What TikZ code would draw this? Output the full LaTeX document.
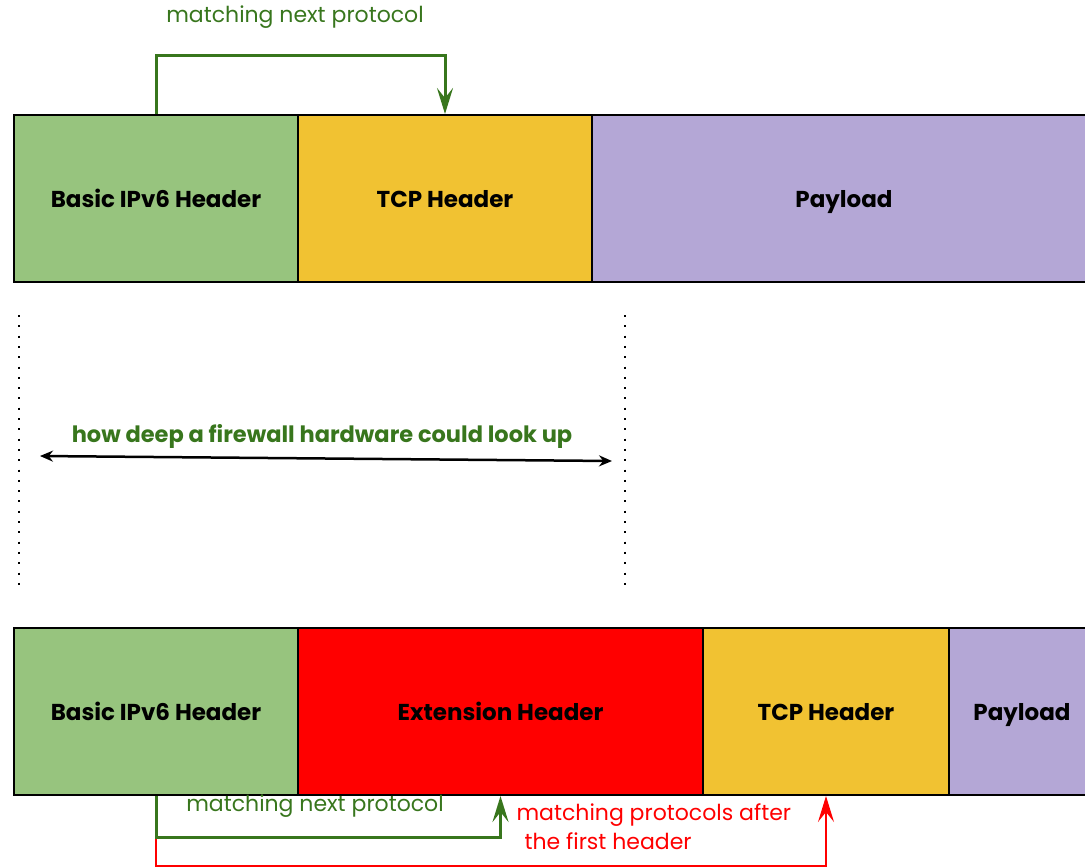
\documentclass[tikz,border=0pt]{standalone}
\usepackage{fontspec}
\setmainfont{Poppins}
\usepackage{xcolor}
\usetikzlibrary{arrows.meta}

\definecolor{hdrgreen}{HTML}{97C47E}
\definecolor{hdryellow}{HTML}{F1C232}
\definecolor{hdrpurple}{HTML}{B4A7D6}
\definecolor{hdrred}{HTML}{FF0000}
\definecolor{txtgreen}{HTML}{38761D}

\begin{document}
\begin{tikzpicture}[x=1pt,y=-1pt,>={Stealth[length=26pt,width=16pt,inset=10pt]},
  hdr/.style={draw=black,line width=2pt,anchor=north west,minimum height=167pt,
    inner sep=0pt,text height=18pt,text depth=0pt,font=\fontsize{23}{27}\selectfont\bfseries},
  grnlbl/.style={text=txtgreen,font=\fontsize{22}{26}\selectfont},
  redlbl/.style={text=hdrred,font=\fontsize{22}{29}\selectfont,align=left},
  vdots/.style={line width=2pt,dash pattern=on 2pt off 8.3pt}]
  \clip (0,0) rectangle (1085,868);

  % plain packet
  \node[hdr,fill=hdrgreen,minimum width=284pt] (ipv6a) at (13,114) {Basic IPv6 Header};
  \node[hdr,fill=hdryellow,minimum width=294pt] (tcpa) at (297,114) {TCP Header};
  \node[hdr,fill=hdrpurple,minimum width=504pt] (loada) at (591,114) {Payload};
  \node[grnlbl] (nexta) at (295,17) {matching next protocol};
  \draw[->,txtgreen,line width=3pt] (ipv6a.north) -- ++(0,-59) -| (tcpa.north);

  % lookup depth
  \coordinate (dotl1) at (19,315);
  \coordinate (dotl2) at (19,593);
  \coordinate (dotr1) at (625,315);
  \coordinate (dotr2) at (625,593);
  \draw[vdots] (dotl1) -- (dotl2);
  \draw[vdots] (dotr1) -- (dotr2);
  \coordinate (lookl) at (40,456);
  \coordinate (lookr) at (612,461);
  \draw[{Stealth[length=13pt,width=11pt]}-{Stealth[length=13pt,width=11pt]},line width=2.5pt] (lookl) -- (lookr);
  \node[grnlbl,font=\fontsize{22.5}{26}\selectfont\bfseries] (depth) at (322,436) {how deep a firewall hardware could look up};

  % packet with extension header
  \node[hdr,fill=hdrgreen,minimum width=284pt] (ipv6b) at (13,627) {Basic IPv6 Header};
  \node[hdr,fill=hdrred,minimum width=405pt] (extb) at (297,627) {Extension Header};
  \node[hdr,fill=hdryellow,minimum width=246pt] (tcpb) at (702,627) {TCP Header};
  \node[hdr,fill=hdrpurple,minimum width=146pt] (loadb) at (948,627) {Payload};
  \draw[->,hdrred,line width=2pt] (ipv6b.south) -- ++(0,70) -| (tcpb.south);
  \draw[->,txtgreen,line width=3pt] (ipv6b.south) -- ++(0,41) -| (extb.south);
  \node[grnlbl] (nextb) at (315,806) {matching next protocol};
  \node[redlbl,anchor=north west] (after) at (513,800) {matching protocols after\\\hspace*{8pt}the first header};
\end{tikzpicture}
\end{document}
